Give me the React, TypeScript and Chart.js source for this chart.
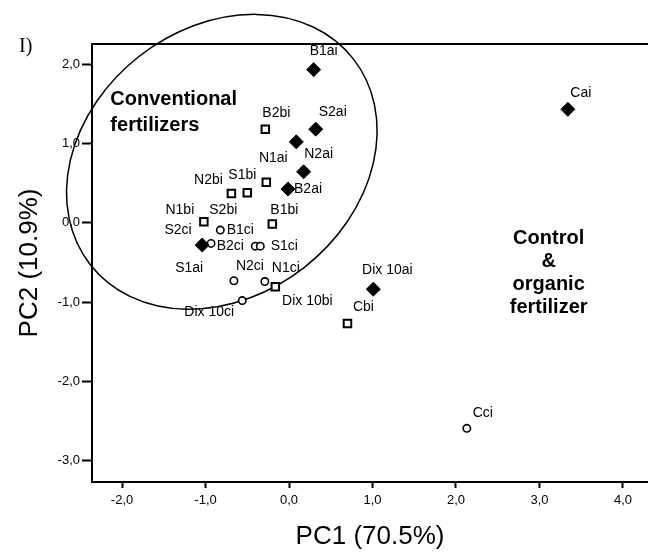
import React, { useEffect, useRef } from "react";
import { Chart, registerables } from "chart.js";

Chart.register(...registerables);

// ---- axis ticks ----
const xTicks = [-2, -1, 0, 1, 2, 3, 4];
const yTicks = [-3, -2, -1, 0, 1, 2];

// ---- "ai" samples (filled diamonds) ----
const aiLabels = ["B1ai", "S2ai", "N1ai", "N2ai", "B2ai", "S1ai", "Dix 10ai", "Cai"];
const aiX = [0.295, 0.32, 0.087, 0.175, -0.012, -1.04, 1.01, 3.34];
const aiY = [1.93, 1.18, 1.02, 0.643, 0.425, -0.28, -0.836, 1.43];

// ---- "bi" samples (open squares) ----
const biLabels = ["B2bi", "S1bi", "S2bi", "N2bi", "N1bi", "B1bi", "Dix 10bi", "Cbi"];
const biX = [-0.284, -0.272, -0.5, -0.69, -1.02, -0.2, -0.164, 0.7];
const biY = [1.18, 0.51, 0.378, 0.37, 0.013, -0.016, -0.807, -1.27];

// ---- "ci" samples (open circles) ----
const ciLabels = ["B1ci", "S2ci", "B2ci", "S1ci", "N2ci", "N1ci", "Dix 10ci", "Cci"];
const ciX = [-0.823, -0.934, -0.404, -0.344, -0.66, -0.29, -0.56, 2.13];
const ciY = [-0.092, -0.26, -0.294, -0.294, -0.73, -0.74, -0.98, -2.59];

// ---- styling: label placement offsets (px) relative to each marker ----
const aiLabelOffsets = [[10, -18], [17, -17], [-23, 16], [15, -18], [20, 0], [-13, 23], [14, -19], [13, -16]];
const biLabelOffsets = [[11, -16], [-24, -7], [-24, 17], [-23, -13], [-24, -12], [12, -14], [32, 14], [16, -16]];
const ciLabelOffsets = [[20, 0], [-33, -13], [-25, 0], [24, 0], [16, -15], [21, -13], [-33, 12], [16, -15]];

// ---- group annotations ----
const groupConventional = ["Conventional", "fertilizers"];
const groupControl = ["Control", "&", "organic", "fertilizer"];
const conventionalAnchor = { x: -2.14, y: 1.56 };
const controlAnchor = { x: 3.11, y: -0.2 };
const ellipseCenter = { x: -0.805, y: 0.769 };
const ELLIPSE_STYLE = { rx: 167, ry: 134, rot: -0.664 };

const FONT = 'Arial, "Liberation Sans", Helvetica, sans-serif';

const toPts = (xs: number[], ys: number[]) => xs.map((x, i) => ({ x, y: ys[i] }));
const fmt = (v: number) => v.toFixed(1).replace(".", ",");

const annotPlugin = {
  id: "annot",
  beforeDatasetsDraw(chart: any) {
    const { ctx, scales } = chart;
    const x = scales.x, y = scales.y;
    ctx.save();
    ctx.strokeStyle = "#000";
    ctx.lineWidth = 1.5;
    ctx.beginPath();
    ctx.ellipse(
      x.getPixelForValue(ellipseCenter.x),
      y.getPixelForValue(ellipseCenter.y),
      ELLIPSE_STYLE.rx,
      ELLIPSE_STYLE.ry,
      ELLIPSE_STYLE.rot,
      0,
      Math.PI * 2
    );
    ctx.stroke();
    ctx.restore();
  },
  afterDatasetsDraw(chart: any) {
    const { ctx, chartArea, scales } = chart;
    const x = scales.x, y = scales.y;
    ctx.save();
    // top frame line
    ctx.strokeStyle = "#000";
    ctx.lineWidth = 2;
    ctx.beginPath();
    ctx.moveTo(chartArea.left - 1, chartArea.top);
    ctx.lineTo(chart.width, chartArea.top);
    ctx.stroke();

    // point labels
    const groups = [
      { labels: aiLabels, offs: aiLabelOffsets },
      { labels: biLabels, offs: biLabelOffsets },
      { labels: ciLabels, offs: ciLabelOffsets },
    ];
    ctx.fillStyle = "#000";
    ctx.font = `14px ${FONT}`;
    ctx.textAlign = "center";
    ctx.textBaseline = "middle";
    groups.forEach((g, di) => {
      const meta = chart.getDatasetMeta(di);
      meta.data.forEach((el: any, i: number) => {
        const [dx, dy] = g.offs[i];
        ctx.fillText(g.labels[i], el.x + dx, el.y + dy);
      });
    });

    // group annotations
    ctx.font = `bold 20px ${FONT}`;
    ctx.textAlign = "left";
    const cx = x.getPixelForValue(conventionalAnchor.x);
    const cy = y.getPixelForValue(conventionalAnchor.y);
    groupConventional.forEach((t, i) => ctx.fillText(t, cx, cy + i * 26));
    ctx.textAlign = "center";
    const ox = x.getPixelForValue(controlAnchor.x);
    const oy = y.getPixelForValue(controlAnchor.y);
    groupControl.forEach((t, i) => ctx.fillText(t, ox, oy + i * 23));

    // panel tag
    ctx.textAlign = "left";
    ctx.font = '20px "Liberation Serif", "Times New Roman", serif';
    ctx.fillText("I)", 19, 47);
    ctx.restore();
  },
};

export default function App() {
  const ref = useRef<HTMLCanvasElement | null>(null);

  useEffect(() => {
    if (!ref.current) return;
    const chart = new Chart(ref.current, {
      type: "scatter",
      data: {
        datasets: [
          {
            label: "ai",
            data: toPts(aiX, aiY),
            pointStyle: "rectRot",
            pointRadius: 7,
            backgroundColor: "#000",
            borderColor: "#000",
            borderWidth: 1,
          },
          {
            label: "bi",
            data: toPts(biX, biY),
            pointStyle: "rect",
            pointRadius: 5.3,
            backgroundColor: "#fff",
            borderColor: "#000",
            borderWidth: 2,
          },
          {
            label: "ci",
            data: toPts(ciX, ciY),
            pointStyle: "circle",
            pointRadius: 3.7,
            backgroundColor: "#fff",
            borderColor: "#000",
            borderWidth: 1.6,
          },
        ],
      },
      options: {
        animation: false,
        responsive: false,
        devicePixelRatio: 1,
        events: [],
        layout: { autoPadding: false, padding: { top: 44, right: 0, left: 0, bottom: 0 } },
        plugins: { legend: { display: false }, tooltip: { enabled: false } },
        scales: {
          x: {
            type: "linear",
            min: -2.36,
            max: 4.3,
            afterBuildTicks: (s: any) => {
              s.ticks = xTicks.map((v) => ({ value: v }));
            },
            afterFit: (s: any) => {
              s.height = 70;
              s.paddingLeft = 0;
              s.paddingRight = 0;
            },
            ticks: {
              autoSkip: false,
              maxRotation: 0,
              color: "#000",
              padding: 5,
              font: { family: FONT, size: 13 },
              callback: (v: any) => fmt(Number(v)),
            },
            grid: {
              drawOnChartArea: false,
              drawTicks: true,
              tickLength: 6,
              tickWidth: 2,
              tickColor: "#000",
            },
            border: { display: true, color: "#000", width: 2 },
            title: {
              display: true,
              text: "PC1 (70.5%)",
              color: "#000",
              font: { family: FONT, size: 26, lineHeight: 1 },
              padding: { top: 0, bottom: 2 },
            },
          },
          y: {
            type: "linear",
            min: -3.266,
            max: 2.253,
            afterBuildTicks: (s: any) => {
              s.ticks = yTicks.map((v) => ({ value: v }));
            },
            afterFit: (s: any) => {
              s.width = 92;
              s.paddingTop = 0;
              s.paddingBottom = 0;
            },
            ticks: {
              autoSkip: false,
              color: "#000",
              padding: 2,
              font: { family: FONT, size: 13 },
              callback: (v: any) => fmt(Number(v)),
            },
            grid: {
              drawOnChartArea: false,
              drawTicks: true,
              tickLength: 10,
              tickWidth: 2,
              tickColor: "#000",
            },
            border: { display: true, color: "#000", width: 2 },
            title: {
              display: true,
              text: "PC2 (10.9%)",
              color: "#000",
              font: { family: FONT, size: 26, lineHeight: 1 },
              padding: { top: 17, bottom: 0 },
            },
          },
        },
      },
      plugins: [annotPlugin],
    });
    return () => chart.destroy();
  }, []);

  return (
    <div style={{ position: "absolute", left: 0, top: 0, width: 648, height: 552, background: "#fff" }}>
      <canvas ref={ref} width={648} height={552} style={{ display: "block", width: 648, height: 552 }} />
    </div>
  );
}
